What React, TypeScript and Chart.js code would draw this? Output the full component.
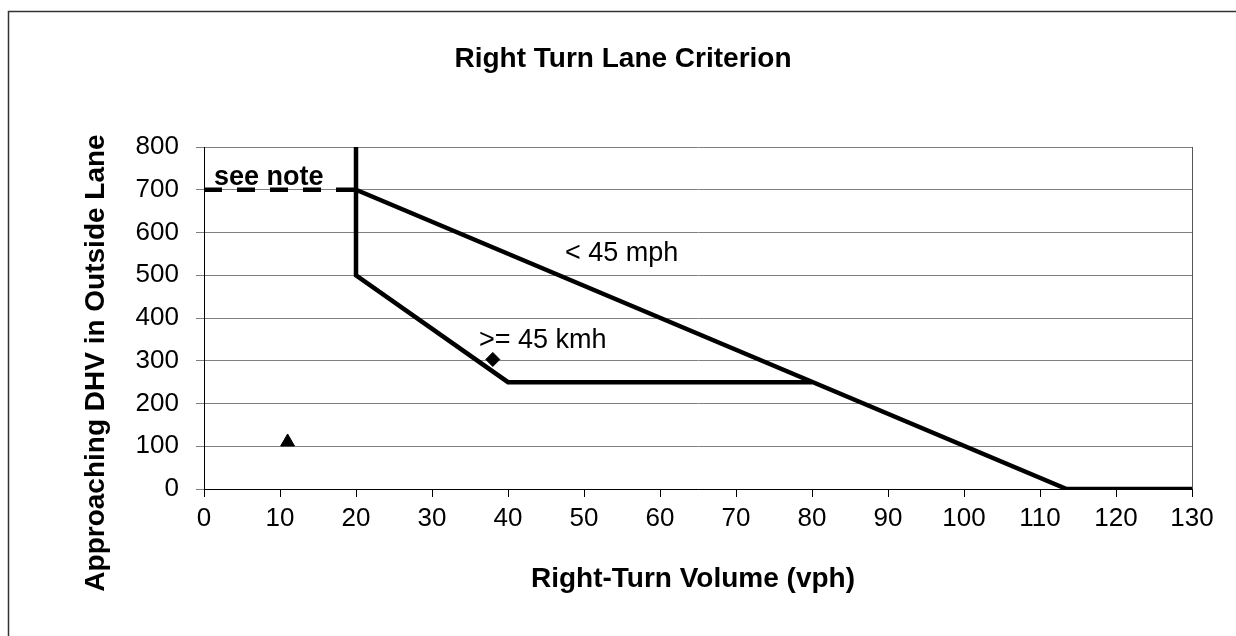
import React, { useEffect, useRef } from "react";
import { Chart, registerables } from "chart.js";

Chart.register(...registerables);

// ---- data ----
const TITLE = "Right Turn Lane Criterion";
const X_TITLE = "Right-Turn Volume (vph)";
const Y_TITLE = "Approaching DHV in Outside Lane";
const LABEL_LOW = "< 45 mph";
const LABEL_HIGH = ">= 45 kmh";
const LABEL_NOTE = "see note";

const under45X = [20, 113.5, 130];
const under45Y = [700, 0, 0];
const over45X = [20, 20, 40, 80];
const over45Y = [800, 500, 250, 250];
const noteX = [0, 20];
const noteY = [700, 700];
const triangleX = [11];
const triangleY = [110];
const diamondX = [38];
const diamondY = [303];

const X_MIN = 0, X_MAX = 130, X_STEP = 10;
const Y_MIN = 0, Y_MAX = 800, Y_STEP = 100;

const toPts = (xs: number[], ys: number[]) => xs.map((x, i) => ({ x, y: ys[i] }));

const FONT = "'Liberation Sans', Arial, sans-serif";

const textPlugin = {
  id: "textPlugin",
  beforeDraw(chart: any) {
    const ctx = chart.ctx;
    ctx.save();
    ctx.fillStyle = "#fff";
    ctx.fillRect(0, 0, chart.width, chart.height);
    ctx.strokeStyle = "#333";
    ctx.lineWidth = 1.5;
    ctx.strokeRect(8.5, 11.5, 3000, 3000);
    ctx.restore();
  },
  afterDraw(chart: any) {
    const ctx = chart.ctx;
    const area = chart.chartArea;
    ctx.save();
    // right border of plot area
    ctx.strokeStyle = "#555";
    ctx.lineWidth = 1;
    ctx.beginPath();
    ctx.moveTo(Math.round(area.right) + 0.5, area.top);
    ctx.lineTo(Math.round(area.right) + 0.5, area.bottom);
    ctx.stroke();

    ctx.fillStyle = "#000";
    ctx.textBaseline = "alphabetic";
    // title
    ctx.font = `bold 28px ${FONT}`;
    ctx.textAlign = "center";
    ctx.fillText(TITLE, 623, 67);
    // x title
    ctx.fillText(X_TITLE, 693, 587);
    // y title
    ctx.save();
    ctx.translate(104, 363);
    ctx.rotate(-Math.PI / 2);
    ctx.fillText(Y_TITLE, 0, 0);
    ctx.restore();
    // note
    ctx.textAlign = "left";
    ctx.font = `bold 27px ${FONT}`;
    ctx.fillText(LABEL_NOTE, 214, 185);
    // series labels
    ctx.font = `27px ${FONT}`;
    ctx.fillText(LABEL_LOW, 565, 261);
    ctx.fillText(LABEL_HIGH, 479, 348);
    ctx.restore();
  },
};

export default function App() {
  const ref = useRef<HTMLCanvasElement | null>(null);
  useEffect(() => {
    if (!ref.current) return;
    const lineDs = (data: any[], dash: number[] = []) => ({
      type: "scatter" as const,
      data,
      showLine: true,
      borderColor: "#000",
      backgroundColor: "#000",
      borderWidth: 4.5,
      borderDash: dash,
      pointRadius: 0,
      pointHoverRadius: 0,
      tension: 0,
      order: 2,
    });
    const chart = new Chart(ref.current, {
      type: "scatter",
      data: {
        datasets: [
          lineDs(toPts(under45X, under45Y)),
          lineDs(toPts(over45X, over45Y)),
          lineDs(toPts(noteX, noteY), [18, 15]),
          {
            data: toPts(triangleX, triangleY),
            pointStyle: "triangle",
            pointRadius: 8,
            backgroundColor: "#000",
            borderColor: "#000",
            borderWidth: 1,
            order: 1,
          } as any,
          {
            data: toPts(diamondX, diamondY),
            pointStyle: "rectRot",
            pointRadius: 7,
            backgroundColor: "#000",
            borderColor: "#000",
            borderWidth: 1,
            order: 1,
          } as any,
        ],
      },
      options: {
        responsive: false,
        animation: false,
        events: [],
        layout: { padding: { left: 0, right: 44, top: 147, bottom: 0 } },
        plugins: { legend: { display: false }, tooltip: { enabled: false }, title: { display: false } },
        scales: {
          x: {
            type: "linear",
            min: X_MIN,
            max: X_MAX,
            afterFit: (s: any) => { s.height = 147; },
            ticks: { stepSize: X_STEP, color: "#000", font: { family: FONT, size: 26 }, padding: 6, maxRotation: 0 },
            grid: { drawOnChartArea: false, drawTicks: true, tickLength: 8, color: "#000" },
            border: { color: "#000", width: 1 },
          },
          y: {
            type: "linear",
            min: Y_MIN,
            max: Y_MAX,
            afterFit: (s: any) => { s.width = 204; },
            ticks: { stepSize: Y_STEP, color: "#000", font: { family: FONT, size: 26 }, padding: 17 },
            grid: { drawOnChartArea: true, drawTicks: true, tickLength: 8, color: "#808080" },
            border: { color: "#000", width: 1 },
          },
        },
      },
      plugins: [textPlugin],
    });
    return () => chart.destroy();
  }, []);
  return (
    <div style={{ position: "fixed", left: 0, top: 0, width: 1236, height: 636 }}>
      <canvas ref={ref} width={1236} height={636} style={{ width: 1236, height: 636 }} />
    </div>
  );
}
